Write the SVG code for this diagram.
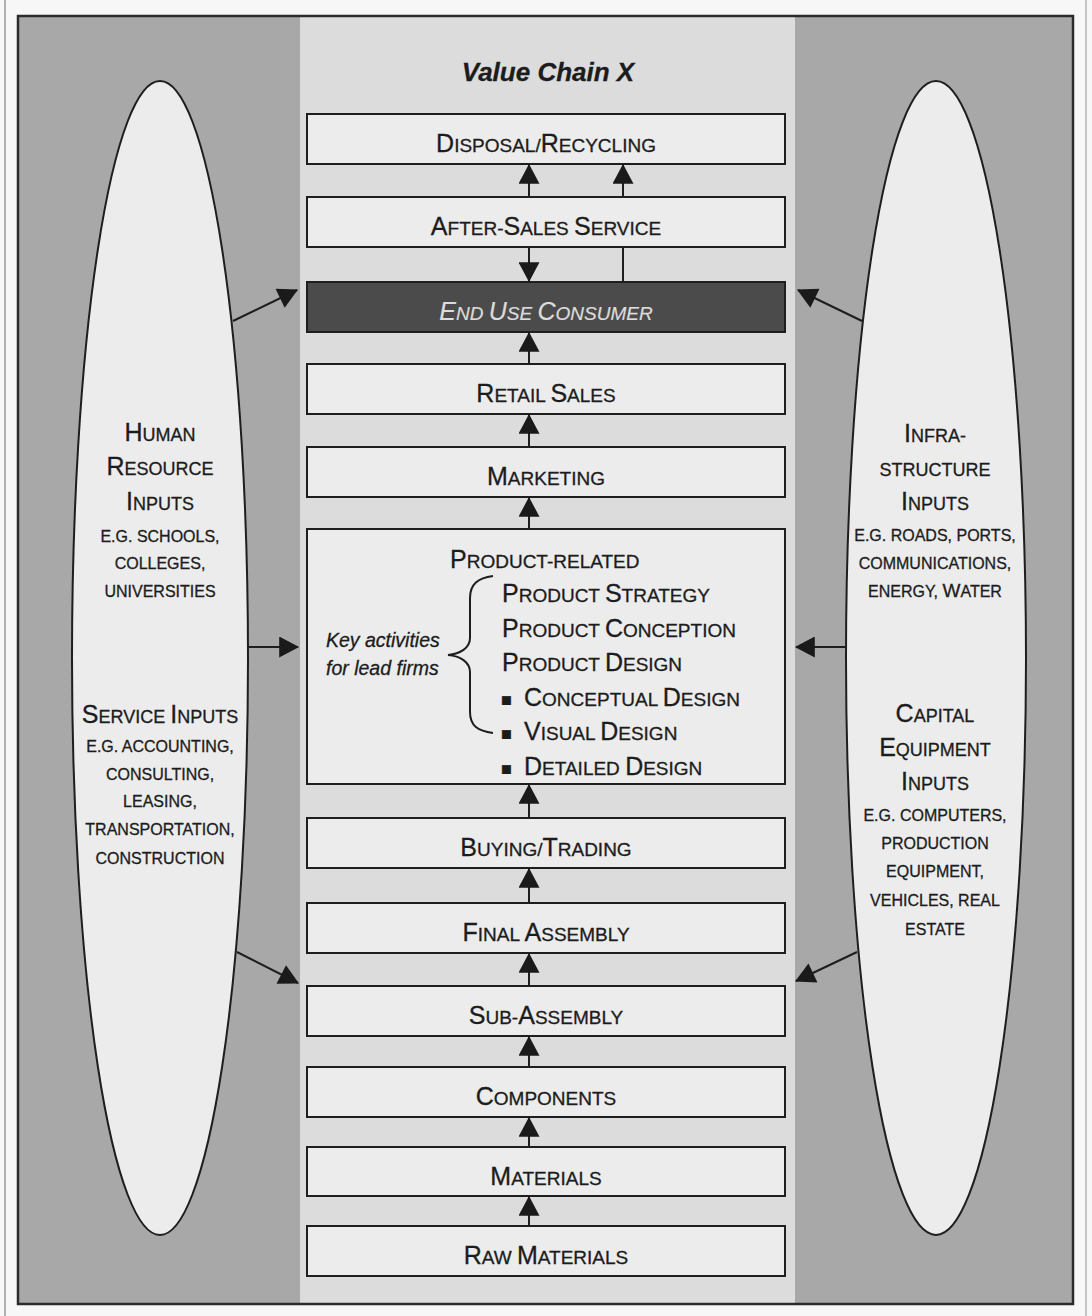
<svg xmlns="http://www.w3.org/2000/svg" width="1092" height="1316" viewBox="0 0 1092 1316">
<defs>
<marker id="ah" markerUnits="userSpaceOnUse" markerWidth="21" markerHeight="21" viewBox="0 0 18 19" refX="17" refY="9.5" orient="auto">
<path d="M0,0 L18,9.5 L0,19 z" fill="#1a1a1a"/>
</marker>
<style>
text{font-family:"Liberation Sans",Arial,Helvetica,sans-serif;fill:#1c1c1c;stroke:#1c1c1c;stroke-width:0.3}
.box{fill:#ececec;stroke:#1e1e1e;stroke-width:2}
.ell{fill:#ececec;stroke:#1e1e1e;stroke-width:2}
.lbl{text-anchor:middle}
.big{font-size:25px}
.sm{font-size:19px}
.hb{font-size:25px}
.hs{font-size:18px}
.eg{font-size:16px;text-anchor:middle}
.con{stroke:#1e1e1e;stroke-width:2;fill:none}
.arr{marker-end:url(#ah)}
</style>
</defs>
<rect width="1092" height="1316" fill="#f7f7f7"/>
<line x1="5" y1="0" x2="5" y2="1316" stroke="#9a9a9a" stroke-width="1.5"/>
<line x1="1086" y1="0" x2="1086" y2="1316" stroke="#b5b5b5" stroke-width="1.5"/>
<g id="frame">
<rect x="18" y="16" width="1055" height="1288" fill="#a8a8a8" stroke="#2a2a2a" stroke-width="2.5"/>
<rect x="300" y="17.5" width="495" height="1285" fill="#dcdcdc"/>
<text x="548" y="81" text-anchor="middle" font-size="26" font-weight="bold" font-style="italic">Value Chain X</text>
</g>
<g id="left-inputs">
<ellipse class="ell" cx="160" cy="658" rx="88" ry="577"/>
<text class="lbl" x="160" y="441"><tspan class="hb">H</tspan><tspan class="hs">UMAN</tspan></text>
<text class="lbl" x="160" y="475"><tspan class="hb">R</tspan><tspan class="hs">ESOURCE</tspan></text>
<text class="lbl" x="160" y="510"><tspan class="hb">I</tspan><tspan class="hs">NPUTS</tspan></text>
<text class="eg" x="160" y="542">E.G. SCHOOLS,</text>
<text class="eg" x="160" y="569">COLLEGES,</text>
<text class="eg" x="160" y="597">UNIVERSITIES</text>
<text class="lbl" x="160" y="723"><tspan class="hb">S</tspan><tspan class="hs">ERVICE </tspan><tspan class="hb">I</tspan><tspan class="hs">NPUTS</tspan></text>
<text class="eg" x="160" y="752">E.G. ACCOUNTING,</text>
<text class="eg" x="160" y="780">CONSULTING,</text>
<text class="eg" x="160" y="807">LEASING,</text>
<text class="eg" x="160" y="835">TRANSPORTATION,</text>
<text class="eg" x="160" y="864">CONSTRUCTION</text>
</g>
<g id="right-inputs">
<ellipse class="ell" cx="936" cy="658" rx="90" ry="577"/>
<text class="lbl" x="935" y="442"><tspan class="hb">I</tspan><tspan class="hs">NFRA-</tspan></text>
<text class="lbl" x="935" y="476"><tspan class="hs">STRUCTURE</tspan></text>
<text class="lbl" x="935" y="510"><tspan class="hb">I</tspan><tspan class="hs">NPUTS</tspan></text>
<text class="eg" x="935" y="541">E.G. ROADS, PORTS,</text>
<text class="eg" x="935" y="569">COMMUNICATIONS,</text>
<text class="eg" x="935" y="597">ENERGY, <tspan font-size="19">W</tspan>ATER</text>
<text class="lbl" x="935" y="722"><tspan class="hb">C</tspan><tspan class="hs">APITAL</tspan></text>
<text class="lbl" x="935" y="756"><tspan class="hb">E</tspan><tspan class="hs">QUIPMENT</tspan></text>
<text class="lbl" x="935" y="790"><tspan class="hb">I</tspan><tspan class="hs">NPUTS</tspan></text>
<text class="eg" x="935" y="821">E.G. COMPUTERS,</text>
<text class="eg" x="935" y="849">PRODUCTION</text>
<text class="eg" x="935" y="877">EQUIPMENT,</text>
<text class="eg" x="935" y="906">VEHICLES, REAL</text>
<text class="eg" x="935" y="935">ESTATE</text>
</g>
<g id="disposal">
<rect class="box" x="307" y="114" width="478" height="50"/>
<text class="lbl" x="546" y="152"><tspan class="big">D</tspan><tspan class="sm">ISPOSAL/</tspan><tspan class="big">R</tspan><tspan class="sm">ECYCLING</tspan></text>
</g>
<g id="after-sales">
<rect class="box" x="307" y="197" width="478" height="50"/>
<text class="lbl" x="546" y="235"><tspan class="big">A</tspan><tspan class="sm">FTER-</tspan><tspan class="big">S</tspan><tspan class="sm">ALES </tspan><tspan class="big">S</tspan><tspan class="sm">ERVICE</tspan></text>
</g>
<g id="end-use">
<rect x="307" y="282" width="478" height="50" fill="#4b4b4b" stroke="#1e1e1e" stroke-width="2"/>
<text class="lbl" x="546" y="320" font-style="italic" style="fill:#dcdcdc;stroke:#dcdcdc;stroke-width:0.2"><tspan class="big">E</tspan><tspan class="sm">ND </tspan><tspan class="big">U</tspan><tspan class="sm">SE </tspan><tspan class="big">C</tspan><tspan class="sm">ONSUMER</tspan></text>
</g>
<g id="retail">
<rect class="box" x="307" y="364" width="478" height="50"/>
<text class="lbl" x="546" y="402"><tspan class="big">R</tspan><tspan class="sm">ETAIL </tspan><tspan class="big">S</tspan><tspan class="sm">ALES</tspan></text>
</g>
<g id="marketing">
<rect class="box" x="307" y="447" width="478" height="50"/>
<text class="lbl" x="546" y="485"><tspan class="big">M</tspan><tspan class="sm">ARKETING</tspan></text>
</g>
<g id="product">
<rect class="box" x="307" y="529" width="478" height="255"/>
<text x="450" y="568"><tspan class="big">P</tspan><tspan class="sm">RODUCT-RELATED</tspan></text>
<text x="502" y="602"><tspan class="big">P</tspan><tspan class="sm">RODUCT </tspan><tspan class="big">S</tspan><tspan class="sm">TRATEGY</tspan></text>
<text x="502" y="637"><tspan class="big">P</tspan><tspan class="sm">RODUCT </tspan><tspan class="big">C</tspan><tspan class="sm">ONCEPTION</tspan></text>
<text x="502" y="671"><tspan class="big">P</tspan><tspan class="sm">RODUCT </tspan><tspan class="big">D</tspan><tspan class="sm">ESIGN</tspan></text>
<text x="501" y="706" font-size="18">■</text>
<text x="524" y="706"><tspan class="big">C</tspan><tspan class="sm">ONCEPTUAL </tspan><tspan class="big">D</tspan><tspan class="sm">ESIGN</tspan></text>
<text x="501" y="740" font-size="18">■</text>
<text x="524" y="740"><tspan class="big">V</tspan><tspan class="sm">ISUAL </tspan><tspan class="big">D</tspan><tspan class="sm">ESIGN</tspan></text>
<text x="501" y="775" font-size="18">■</text>
<text x="524" y="775"><tspan class="big">D</tspan><tspan class="sm">ETAILED </tspan><tspan class="big">D</tspan><tspan class="sm">ESIGN</tspan></text>
<text x="326" y="647" font-size="19.5" font-style="italic">Key activities</text>
<text x="326" y="675" font-size="19.5" font-style="italic">for lead firms</text>
<path class="con" d="M493,576 C478,578 470,584 470,598 L470,638 C470,648 460,654 448,655 C460,656 470,662 470,672 L470,712 C470,726 478,731 493,733"/>
</g>
<g id="buying">
<rect class="box" x="307" y="818" width="478" height="50"/>
<text class="lbl" x="546" y="856"><tspan class="big">B</tspan><tspan class="sm">UYING/</tspan><tspan class="big">T</tspan><tspan class="sm">RADING</tspan></text>
</g>
<g id="final-assembly">
<rect class="box" x="307" y="903" width="478" height="50"/>
<text class="lbl" x="546" y="941"><tspan class="big">F</tspan><tspan class="sm">INAL </tspan><tspan class="big">A</tspan><tspan class="sm">SSEMBLY</tspan></text>
</g>
<g id="sub-assembly">
<rect class="box" x="307" y="986" width="478" height="50"/>
<text class="lbl" x="546" y="1024"><tspan class="big">S</tspan><tspan class="sm">UB-</tspan><tspan class="big">A</tspan><tspan class="sm">SSEMBLY</tspan></text>
</g>
<g id="components">
<rect class="box" x="307" y="1067" width="478" height="50"/>
<text class="lbl" x="546" y="1105"><tspan class="big">C</tspan><tspan class="sm">OMPONENTS</tspan></text>
</g>
<g id="materials">
<rect class="box" x="307" y="1147" width="478" height="49"/>
<text class="lbl" x="546" y="1185"><tspan class="big">M</tspan><tspan class="sm">ATERIALS</tspan></text>
</g>
<g id="raw-materials">
<rect class="box" x="307" y="1226" width="478" height="50"/>
<text class="lbl" x="546" y="1264"><tspan class="big">R</tspan><tspan class="sm">AW </tspan><tspan class="big">M</tspan><tspan class="sm">ATERIALS</tspan></text>
</g>
<g id="connectors">
<line class="con arr" x1="529" y1="1226" x2="529" y2="1197"/>
<line class="con arr" x1="529" y1="1147" x2="529" y2="1118"/>
<line class="con arr" x1="529" y1="1067" x2="529" y2="1037"/>
<line class="con arr" x1="529" y1="986" x2="529" y2="954"/>
<line class="con arr" x1="529" y1="903" x2="529" y2="869"/>
<line class="con arr" x1="529" y1="818" x2="529" y2="785"/>
<line class="con arr" x1="529" y1="529" x2="529" y2="498"/>
<line class="con arr" x1="529" y1="447" x2="529" y2="415"/>
<line class="con arr" x1="529" y1="364" x2="529" y2="333"/>
<line class="con arr" x1="529" y1="247" x2="529" y2="281"/>
<line class="con" x1="623" y1="282" x2="623" y2="247"/>
<line class="con arr" x1="529" y1="197" x2="529" y2="165"/>
<line class="con arr" x1="623" y1="197" x2="623" y2="165"/>
<line class="con arr" x1="233" y1="321" x2="297" y2="290"/>
<line class="con arr" x1="248" y1="647" x2="298" y2="647"/>
<line class="con arr" x1="237" y1="952" x2="298" y2="983"/>
<line class="con arr" x1="862" y1="321" x2="798" y2="290"/>
<line class="con arr" x1="846" y1="647" x2="796" y2="647"/>
<line class="con arr" x1="857" y1="952" x2="796" y2="981"/>
</g>
</svg>
